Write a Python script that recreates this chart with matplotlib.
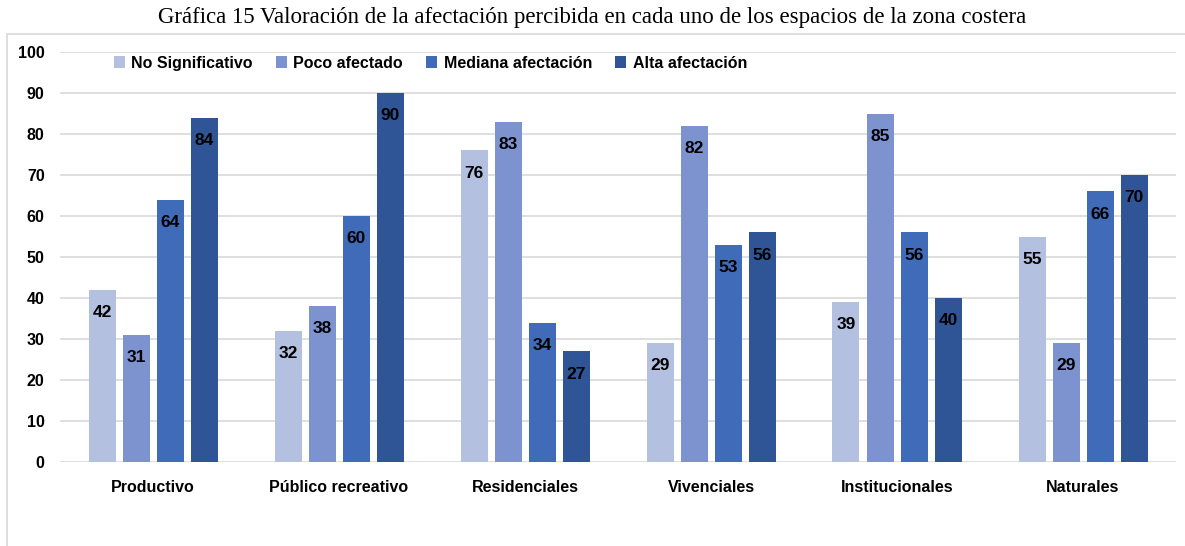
import matplotlib
matplotlib.use("Agg")
import matplotlib.pyplot as plt
from matplotlib.patches import Rectangle
import numpy as np

categories = ["Productivo", "Público recreativo", "Residenciales", "Vivenciales", "Institucionales", "Naturales"]
series_names = ["No Significativo", "Poco afectado", "Mediana afectación", "Alta afectación"]
no_significativo = [42, 32, 76, 29, 39, 55]
poco_afectado = [31, 38, 83, 82, 85, 29]
mediana_afectacion = [64, 60, 34, 53, 56, 66]
alta_afectacion = [84, 90, 27, 56, 40, 70]
yticks = [0, 10, 20, 30, 40, 50, 60, 70, 80, 90, 100]
title = "Gráfica 15 Valoración de la afectación percibida en cada uno de los espacios de la zona costera"

series = [no_significativo, poco_afectado, mediana_afectacion, alta_afectacion]
colors = ["#B4C0E0", "#7C93D0", "#3F6BB9", "#2F5597"]

plt.rcParams['font.family'] = ['Liberation Sans', 'DejaVu Sans']

fig = plt.figure(figsize=(11.85, 5.46), dpi=100)
ax = fig.add_axes([60/1185, 1-462/546, (1176-60)/1185, (462-52)/546])

# outer chart frame
fig.patches.append(Rectangle((7/1185, -0.05), 1.1, 1-34/546+0.05, transform=fig.transFigure,
                             fill=False, edgecolor="#D9D9D9", linewidth=1.2, zorder=0))

x = np.arange(len(categories))
slot = 34/186
bw = 27/186
for i, (vals, c, name) in enumerate(zip(series, colors, series_names)):
    pos = x + (i - 1.5) * slot
    bars = ax.bar(pos, vals, width=bw, color=c, label=name, zorder=3)
    for b, v in zip(bars, vals):
        ax.annotate(f"{v}", (b.get_x() + b.get_width()/2, v), xytext=(0, -11),
                    textcoords="offset points", ha="center", va="top",
                    fontsize=12.5, fontweight="bold", color="black", zorder=4)

ax.set_xlim(-0.5, len(categories) - 0.5)
ax.set_ylim(0, 100)
ax.set_yticks(yticks)
ax.set_yticklabels([str(t) for t in yticks], fontsize=11.5, fontweight="bold")
ax.set_xticks(x)
ax.set_xticklabels(categories, fontsize=11.5, fontweight="bold")
ax.tick_params(axis="both", length=0)
ax.tick_params(axis="y", pad=11)
ax.tick_params(axis="x", pad=13)
ax.grid(axis="y", color="#D9D9D9", linewidth=1.2, zorder=0)
for s in ax.spines.values():
    s.set_visible(False)

leg = ax.legend(loc="center left", bbox_to_anchor=(0.048, 0.973), ncol=4, frameon=False,
                fontsize=11.5, handlelength=0.7, handleheight=0.7, handletextpad=0.4,
                columnspacing=1.45, borderaxespad=0, borderpad=0)
for t in leg.get_texts():
    t.set_fontweight("bold")

fig.text(592/1185, 1-17/546, title, ha="center", va="center", fontsize=16.5,
         family=["Liberation Serif", "DejaVu Serif"])

fig.savefig("out.png", dpi=100)
